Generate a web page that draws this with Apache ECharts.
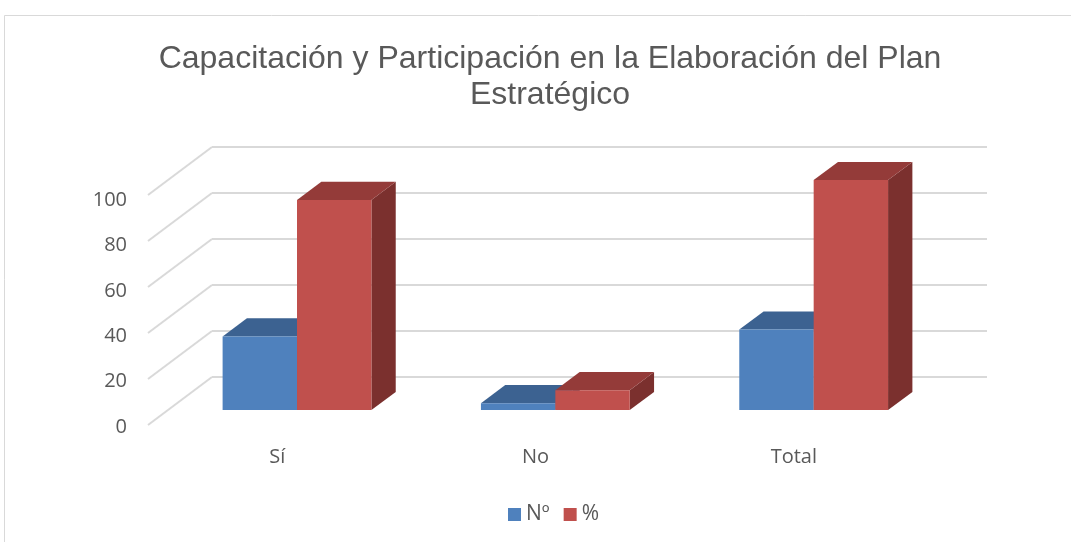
<!DOCTYPE html>
<html>
<head>
<meta charset="utf-8">
<script src="https://cdn.jsdelivr.net/npm/echarts@6/dist/echarts.min.js"></script>
<style>
  html, body { margin: 0; padding: 0; background: #ffffff; }
  #chart { width: 1071px; height: 542px; }
</style>
</head>
<body>
<div id="chart"></div>
<script>
// datos
var categories = ['Sí', 'No', 'Total'];
var seriesNames = ['Nº', '%'];
var numValues = [32, 3, 35];
var pctValues = [91.4, 8.6, 100];
var yTicks = [0, 20, 40, 60, 80, 100];

// perspectiva (pared de fondo -> borde frontal del suelo)
var DEPTH_X = -64;
var DEPTH_Y = 48;
var FRONT_T = 0.69;   // cara frontal de la barra
var BACK_T = 0.31;    // cara trasera de la barra

var gridColor = '#D9D9D9';
var textColor = '#595959';

var chart = echarts.init(document.getElementById('chart'));

function barRenderer(slot, colors) {
    return function (params, api) {
        var idx = api.value(0);
        var val = api.value(1);
        var base = api.coord([idx, 0]);
        var top = api.coord([idx, val]);
        var band = api.size([1, 0])[0];
        var w = band * 0.288;
        var x0 = base[0] + (slot === 0 ? -w : 0);
        var x1 = x0 + w;
        var fx = DEPTH_X * FRONT_T, fy = DEPTH_Y * FRONT_T;
        var bx = DEPTH_X * BACK_T, by = DEPTH_Y * BACK_T;
        var yb = base[1], yt = top[1];
        var front = [[x0 + fx, yt + fy], [x1 + fx, yt + fy], [x1 + fx, yb + fy], [x0 + fx, yb + fy]];
        var topFace = [[x0 + fx, yt + fy], [x1 + fx, yt + fy], [x1 + bx, yt + by], [x0 + bx, yt + by]];
        var side = [[x1 + fx, yt + fy], [x1 + bx, yt + by], [x1 + bx, yb + by], [x1 + fx, yb + fy]];
        return {
            type: 'group',
            children: [
                { type: 'polygon', shape: { points: side }, style: { fill: colors[2] } },
                { type: 'polygon', shape: { points: topFace }, style: { fill: colors[1] } },
                { type: 'polygon', shape: { points: front }, style: { fill: colors[0] } }
            ]
        };
    };
}

var option = {
    backgroundColor: '#ffffff',
    animation: false,
    title: {
        text: 'Capacitación y Participación en la Elaboración del Plan\nEstratégico',
        left: 545,
        top: 36,
        textAlign: 'center',
        textStyle: {
            fontFamily: 'Liberation Sans',
            fontSize: 32,
            fontWeight: 'normal',
            color: textColor,
            lineHeight: 36
        }
    },
    legend: {
        bottom: 12,
        left: 503,
        icon: 'rect',
        itemWidth: 13,
        itemHeight: 13,
        itemGap: 14,
        data: seriesNames,
        textStyle: { fontFamily: 'Open Sans', fontSize: 21, color: textColor }
    },
    graphic: [
        {
            type: 'rect',
            shape: { x: 4.5, y: 15.5, width: 1100, height: 560 },
            style: { fill: null, stroke: gridColor, lineWidth: 1 },
            silent: true
        }
    ],
    grid: [
        // pared de fondo
        { left: 212, right: 84, top: 147, bottom: 165 },
        // borde frontal del suelo (etiquetas)
        { left: 148, right: 148, top: 200, bottom: 115 }
    ],
    xAxis: [
        {
            gridIndex: 0,
            type: 'category',
            data: categories,
            axisLine: { show: false },
            axisTick: { show: false },
            axisLabel: { show: false }
        },
        {
            gridIndex: 1,
            type: 'category',
            data: categories,
            axisLine: { show: false },
            axisTick: { show: false },
            axisLabel: { margin: 20, fontFamily: 'Open Sans', fontSize: 20, color: textColor }
        }
    ],
    yAxis: [
        {
            gridIndex: 0,
            type: 'value',
            min: 0,
            max: 100,
            interval: 20,
            axisLine: { show: false },
            axisTick: { show: false },
            axisLabel: { show: false },
            splitLine: { show: true, lineStyle: { color: gridColor, width: 2 } }
        },
        {
            gridIndex: 1,
            type: 'value',
            min: 0,
            max: 100,
            interval: 20,
            axisLine: { show: false },
            axisTick: { show: false },
            splitLine: { show: false },
            axisLabel: { margin: 21, fontFamily: 'Open Sans', fontSize: 20, color: textColor }
        }
    ],
    series: [
        {
            // líneas de la pared lateral
            type: 'custom',
            name: 'pared',
            xAxisIndex: 0,
            yAxisIndex: 0,
            silent: true,
            data: yTicks.map(function (t) { return [0, t]; }),
            renderItem: function (params, api) {
                var left = params.coordSys.x;
                var y = api.coord([0, api.value(1)])[1];
                return {
                    type: 'line',
                    shape: { x1: left, y1: y, x2: left + DEPTH_X, y2: y + DEPTH_Y },
                    style: { stroke: gridColor, lineWidth: 2 }
                };
            }
        },
        {
            type: 'custom',
            name: seriesNames[0],
            xAxisIndex: 0,
            yAxisIndex: 0,
            itemStyle: { color: '#4F81BD' },
            data: numValues.map(function (v, i) { return [i, v]; }),
            renderItem: barRenderer(0, ['#4F81BD', '#3C6291', '#2F4D72'])
        },
        {
            type: 'custom',
            name: seriesNames[1],
            xAxisIndex: 0,
            yAxisIndex: 0,
            itemStyle: { color: '#C0504D' },
            data: pctValues.map(function (v, i) { return [i, v]; }),
            renderItem: barRenderer(1, ['#C0504D', '#943B39', '#7B302E'])
        }
    ]
};

chart.setOption(option);
</script>
</body>
</html>
